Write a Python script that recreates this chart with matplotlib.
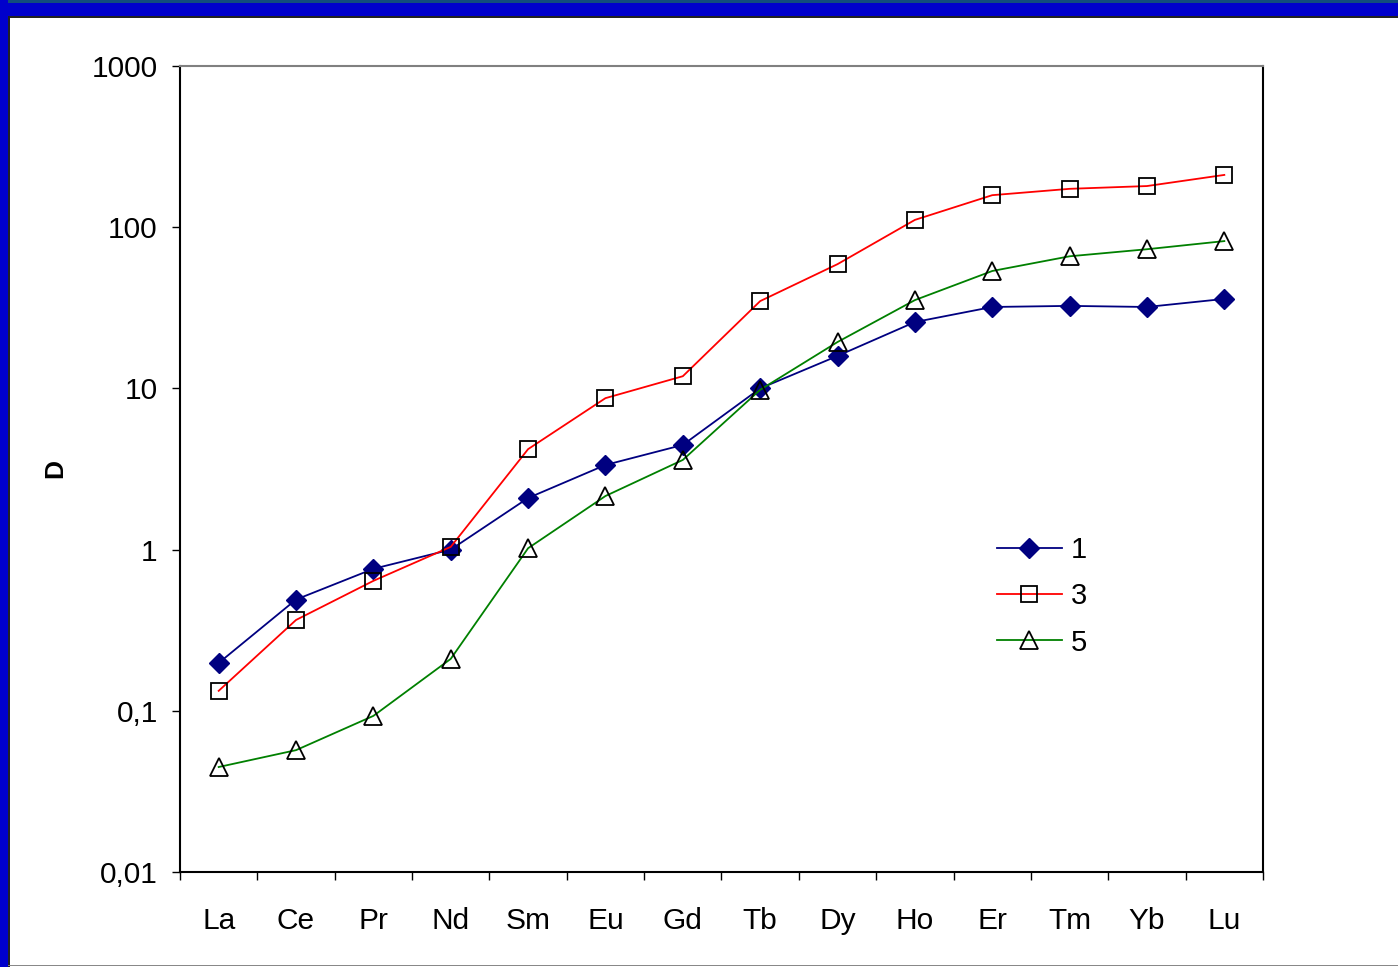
import matplotlib
matplotlib.use("Agg")
import matplotlib.pyplot as plt
import numpy as np
from matplotlib.patches import Rectangle

plt.rcParams['font.family'] = ['Liberation Sans', 'DejaVu Sans']

# REE names along the x axis
elements = ["La", "Ce", "Pr", "Nd", "Sm", "Eu", "Gd", "Tb", "Dy", "Ho", "Er", "Tm", "Yb", "Lu"]

# partition coefficients
d1 = [0.198, 0.49, 0.76, 1.0, 2.09, 3.35, 4.46, 10.0, 15.9, 25.8, 32.0, 32.5, 32.0, 35.9]
d3 = [0.133, 0.366, 0.64, 1.04, 4.2, 8.7, 11.9, 34.8, 59.0, 111.0, 158.0, 173.0, 180.0, 211.0]
d5 = [0.0448, 0.057, 0.093, 0.21, 1.02, 2.15, 3.6, 9.8, 19.4, 35.3, 53.5, 66.0, 73.0, 82.0]

yticks = [0.01, 0.1, 1, 10, 100, 1000]
ytick_labels = ["0,01", "0,1", "1", "10", "100", "1000"]

fig = plt.figure(figsize=(13.98, 9.67), dpi=100)
fig.patch.set_facecolor("white")

# slide frame
fig.patches.append(Rectangle((0, 964 / 967), 1, 3 / 967, transform=fig.transFigure,
                             facecolor="#124c7c", edgecolor="none", zorder=0))
fig.patches.append(Rectangle((0, 951 / 967), 1, 13 / 967, transform=fig.transFigure,
                             facecolor="#0000cc", edgecolor="none", zorder=0))
fig.patches.append(Rectangle((0, 0), 8 / 1398, 1, transform=fig.transFigure,
                             facecolor="#0000cc", edgecolor="none", zorder=0))
fig.patches.append(Rectangle((8 / 1398, 949.5 / 967), 1, 1.5 / 967, transform=fig.transFigure,
                             facecolor="#222222", edgecolor="none", zorder=0))
fig.patches.append(Rectangle((8 / 1398, 0), 1.5 / 1398, 951 / 967, transform=fig.transFigure,
                             facecolor="#222222", edgecolor="none", zorder=0))
fig.patches.append(Rectangle((8 / 1398, 1 / 967), 1, 1.5 / 967, transform=fig.transFigure,
                             facecolor="#888888", edgecolor="none", zorder=0))

ax = fig.add_axes([180 / 1398, 1 - 872 / 967, 1083 / 1398, 806 / 967])
ax.set_yscale("log")
ax.set_ylim(0.01, 1000)
ax.set_xlim(-0.5, len(elements) - 0.5)

x = np.arange(len(elements))
ax.plot(x, d1, color="#000080", lw=1.3, marker="D", ms=9.7, mfc="#000080",
        mec="#000080", mew=1, label="1", zorder=3)
ax.plot(x, d3, color="#ff0000", lw=1.3, marker="s", ms=12, mfc="none",
        mec="black", mew=1.3, label="3", zorder=3)
ax.plot(x, d5, color="#008000", lw=1.3, marker="^", ms=13.5, mfc="none",
        mec="black", mew=1.3, label="5", zorder=3)

ax.set_yticks(yticks)
ax.set_yticklabels(ytick_labels)
ax.yaxis.set_minor_locator(matplotlib.ticker.NullLocator())
ax.tick_params(axis="y", which="major", direction="out", length=6, width=1,
               labelsize=21.5, pad=10)

ax.set_xticks(x)
ax.set_xticklabels(elements)
ax.set_xticks(np.arange(len(elements) + 1) - 0.5, minor=True)
ax.tick_params(axis="x", which="major", length=0, labelsize=21.5, pad=25)
ax.tick_params(axis="x", which="minor", direction="out", length=6, width=1)

for side in ["left", "bottom", "right"]:
    ax.spines[side].set_color("black")
    ax.spines[side].set_linewidth(1.5)
ax.spines["top"].set_color("#808080")
ax.spines["top"].set_linewidth(1.5)

ax.set_ylabel("D", fontsize=19, fontweight="bold")
ax.yaxis.set_label_coords(-0.104, 0.5)

ax.legend(loc="upper left", bbox_to_anchor=(0.754, 0.417),
          frameon=False, fontsize=21, handlelength=2.25, handletextpad=0.3,
          labelspacing=0.63, borderpad=0, borderaxespad=0)

fig.savefig("out.png", dpi=100)
